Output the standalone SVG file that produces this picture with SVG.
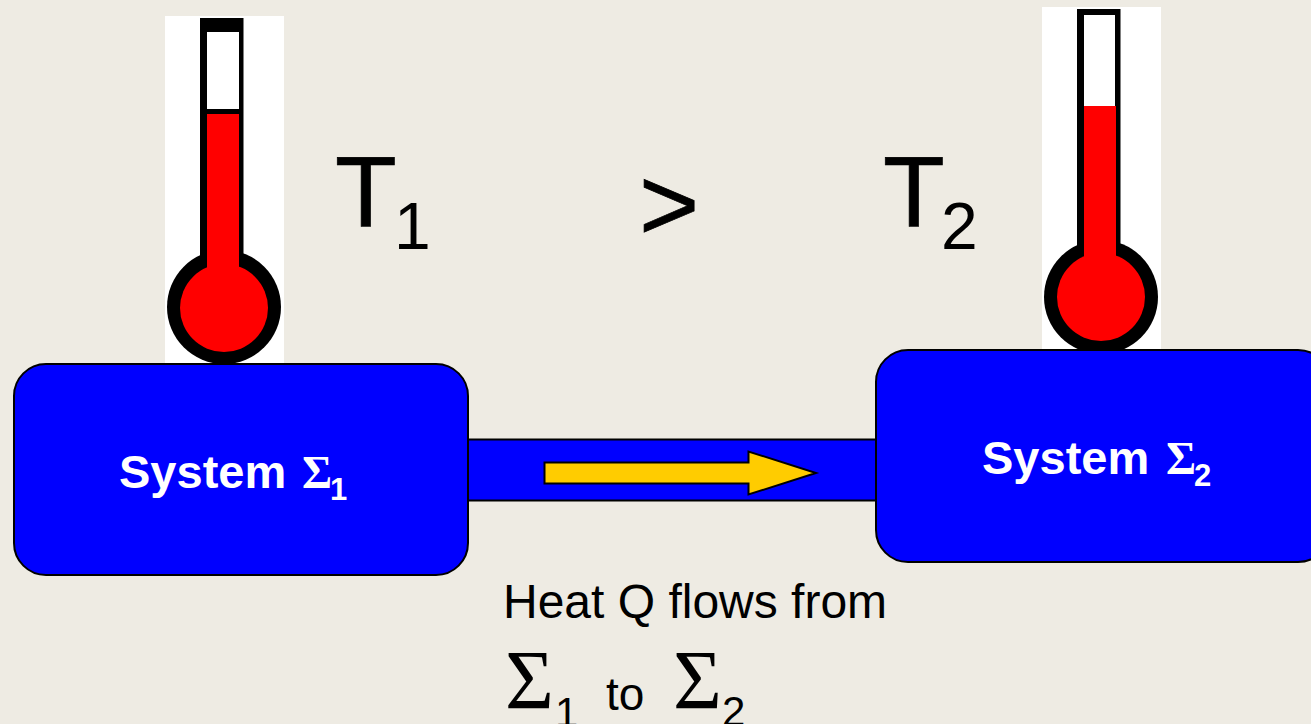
<svg xmlns="http://www.w3.org/2000/svg" width="1311" height="724" viewBox="0 0 1311 724">
<style>
.a{font-family:"Liberation Sans",Arial,sans-serif;fill:#000}
.h{stroke:#000;stroke-width:.7px}
.s{font-family:"Liberation Serif","Times New Roman",serif;fill:#000}
.b{font-family:"Liberation Sans",Arial,sans-serif;font-weight:700;fill:#fff;font-size:47px}
.bs{font-family:"Liberation Serif","Times New Roman",serif;font-weight:700;fill:#fff;font-size:46px}
.bn{font-family:"Liberation Sans",Arial,sans-serif;font-weight:700;fill:#fff;font-size:31px}
.box{fill:#0000ff;stroke:#000;stroke-width:2}
.k{fill:#000}
.r{fill:#ff0000}
.w{fill:#fff}
</style>
<rect width="1311" height="724" fill="#eeebe3"/>
<g id="connectors">
<rect class="box" x="462" y="439.500" width="420" height="61"/>
<path d="M544.500 462.500H748.500V451.500L816 473 748.500 494.500V483.500H544.500Z" fill="#ffcc00" stroke="#000" stroke-width="2"/>
</g>
<g id="thermometer-1">
<rect class="w" x="165" y="16" width="119" height="347"/>
<rect class="k" x="200" y="18" width="43.500" height="260"/>
<circle class="k" cx="224" cy="307" r="57"/>
<rect class="w" x="207" y="32" width="32" height="77"/>
<rect class="r" x="207" y="114" width="32" height="170"/>
<circle class="r" cx="224" cy="308" r="44"/>
</g>
<g id="thermometer-2">
<rect class="w" x="1042" y="7" width="119" height="343"/>
<rect class="k" x="1077" y="9" width="43.500" height="260"/>
<circle class="k" cx="1101" cy="297" r="57"/>
<rect class="w" x="1084" y="15" width="31" height="91"/>
<rect class="r" x="1084" y="106" width="32" height="170"/>
<circle class="r" cx="1101" cy="297" r="44"/>
</g>
<g id="system-1">
<rect class="box" x="14" y="364" width="454" height="211" rx="32"/>
<text class="b" x="119" y="488">System</text>
<text class="bs" x="302" y="488">Σ</text>
<text class="bn" x="330" y="500">1</text>
</g>
<g id="system-2">
<rect class="box" x="876" y="350" width="454" height="212" rx="32"/>
<text class="b" x="982" y="474">System</text>
<text class="bs" x="1166" y="474">Σ</text>
<text class="bn" x="1194" y="486">2</text>
</g>
<g id="labels">
<text class="a h" x="335" y="226" font-size="101">T</text>
<text class="a" x="394" y="249" font-size="66">1</text>
<text class="a h" x="639" y="240" font-size="103">&gt;</text>
<text class="a h" x="883" y="226" font-size="101">T</text>
<text class="a" x="941" y="249" font-size="66">2</text>
<text class="a" x="503" y="618" font-size="48">Heat Q flows from</text>
<text class="s" x="505" y="709" font-size="84">Σ</text>
<text class="a" x="555" y="727" font-size="42">1</text>
<text class="a" x="606" y="710" font-size="46">to</text>
<text class="s" x="673" y="709" font-size="84">Σ</text>
<text class="a" x="722" y="726" font-size="42">2</text>
</g>
</svg>
